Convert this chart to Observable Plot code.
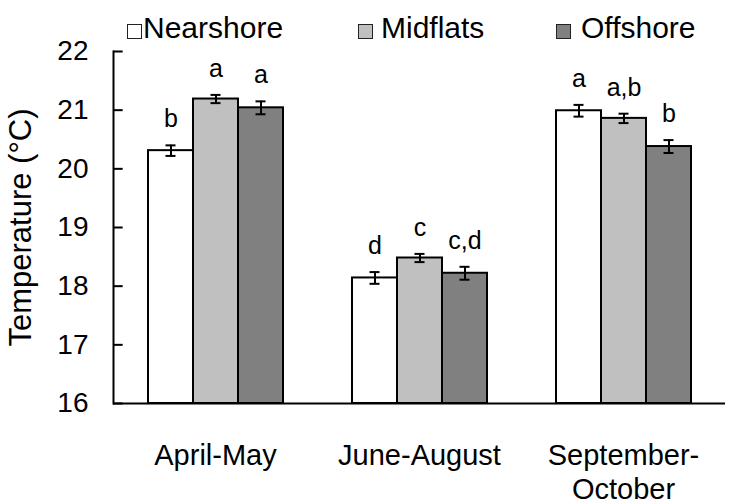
<!DOCTYPE html>
<html>
<head>
<meta charset="utf-8">
<script src="https://cdn.jsdelivr.net/npm/d3@7"></script>
<script src="https://cdn.jsdelivr.net/npm/@observablehq/plot@0.6"></script>
<style>
  html, body { margin: 0; padding: 0; background: #fff; }
  body { width: 733px; height: 503px; overflow: hidden; font-family: "Liberation Sans", Arial, sans-serif; }
  #legend { position: relative; width: 733px; height: 44px; }
  .sw { position: absolute; width: 13px; height: 13px; border: 1px solid #222; top: 24px; }
  .lt { position: absolute; font-size: 30px; line-height: 30px; top: 13px; color: #000; }
</style>
</head>
<body>
<div id="legend"></div>
<div id="chart"></div>
<script>
// ---- data ----
const groups = ["April-May", "June-August", "September-October"];
const groupTickLabels = ["April-May", "June-August", "September-\nOctober"];
const sites = ["Nearshore", "Midflats", "Offshore"];
const siteColors = ["#ffffff", "#c0c0c0", "#808080"];
const nearshoreMean = [20.31, 18.14, 20.99];
const midflatsMean  = [21.19, 18.48, 20.86];
const offshoreMean  = [21.04, 18.22, 20.38];
const nearshoreSE = [0.09, 0.10, 0.10];
const midflatsSE  = [0.07, 0.07, 0.08];
const offshoreSE  = [0.11, 0.11, 0.11];
const nearshoreLetters = ["b", "d", "a"];
const midflatsLetters  = ["a", "c", "a,b"];
const offshoreLetters  = ["a", "c,d", "b"];
const yTicks = [16, 17, 18, 19, 20, 21, 22];
const yLabel = "Temperature (°C)";

const means = [nearshoreMean, midflatsMean, offshoreMean];
const ses = [nearshoreSE, midflatsSE, offshoreSE];
const letters = [nearshoreLetters, midflatsLetters, offshoreLetters];

const rows = [];
groups.forEach((g, gi) => {
  sites.forEach((s, si) => {
    rows.push({group: g, site: s, mean: means[si][gi], se: ses[si][gi], letter: letters[si][gi]});
  });
});

// ---- legend ----
const legend = document.getElementById("legend");
const legendPos = [[127, 143], [358, 381], [556, 581]];
sites.forEach((s, i) => {
  const sw = document.createElement("div");
  sw.className = "sw";
  sw.style.left = legendPos[i][0] + "px";
  sw.style.background = siteColors[i];
  legend.appendChild(sw);
  const t = document.createElement("div");
  t.className = "lt";
  t.style.left = legendPos[i][1] + "px";
  t.textContent = s;
  legend.appendChild(t);
});

// ---- chart ----
const W = 733, H = 459, mL = 112, mR = 8, mT = 7, mB = 100;
const facetW = (W - mL - mR) / groups.length;

const chart = Plot.plot({
  width: W,
  height: H,
  marginLeft: mL,
  marginRight: mR,
  marginTop: mT,
  marginBottom: mB,
  style: {fontFamily: "'Liberation Sans', Arial, sans-serif", color: "#000", background: "#fff", overflow: "visible"},
  fx: {domain: groups, padding: 0, label: null},
  x: {domain: sites, paddingInner: 0, paddingOuter: 0.755, axis: null},
  y: {domain: [16, 22], label: null},
  color: {domain: sites, range: siteColors},
  marks: [
    Plot.barY(rows, {fx: "group", x: "site", y1: 16, y2: "mean", fill: "site", stroke: "#000", strokeWidth: 2}),
    Plot.ruleX(rows, {fx: "group", x: "site", y1: d => d.mean - d.se, y2: d => d.mean + d.se, stroke: "#000", strokeWidth: 2}),
    Plot.tickY(rows, {fx: "group", x: "site", y: d => d.mean - d.se, stroke: "#000", strokeWidth: 2, inset: 17.5}),
    Plot.tickY(rows, {fx: "group", x: "site", y: d => d.mean + d.se, stroke: "#000", strokeWidth: 2, inset: 17.5}),
    Plot.text(rows, {fx: "group", x: "site", y: d => d.mean + d.se, text: "letter", dy: -26, fontSize: 25, fill: "#000"}),
    Plot.ruleY([16], {stroke: "#000", strokeWidth: 2}),
    Plot.frame({anchor: "left", facetAnchor: "left", stroke: "#000", strokeWidth: 2}),
    Plot.tickY(yTicks, {y: d => d, insetRight: facetW - 10, facetAnchor: "left", stroke: "#000", strokeWidth: 2}),
    Plot.axisY(yTicks, {anchor: "left", tickSize: 0, tickPadding: 25, fontSize: 28, label: null, tickFormat: d => String(d)}),
    Plot.text([yLabel], {text: d => d, frameAnchor: "left", textAnchor: "middle", rotate: -90, dx: -105, lineAnchor: "top", fontSize: 31, facetAnchor: "left", fill: "#000"}),
    Plot.axisFx({anchor: "bottom", tickSize: 0, tickPadding: 37, fontSize: 29, lineHeight: 1.17, label: null,
      tickFormat: d => groupTickLabels[groups.indexOf(d)]})
  ]
});
document.getElementById("chart").appendChild(chart);
</script>
</body>
</html>
